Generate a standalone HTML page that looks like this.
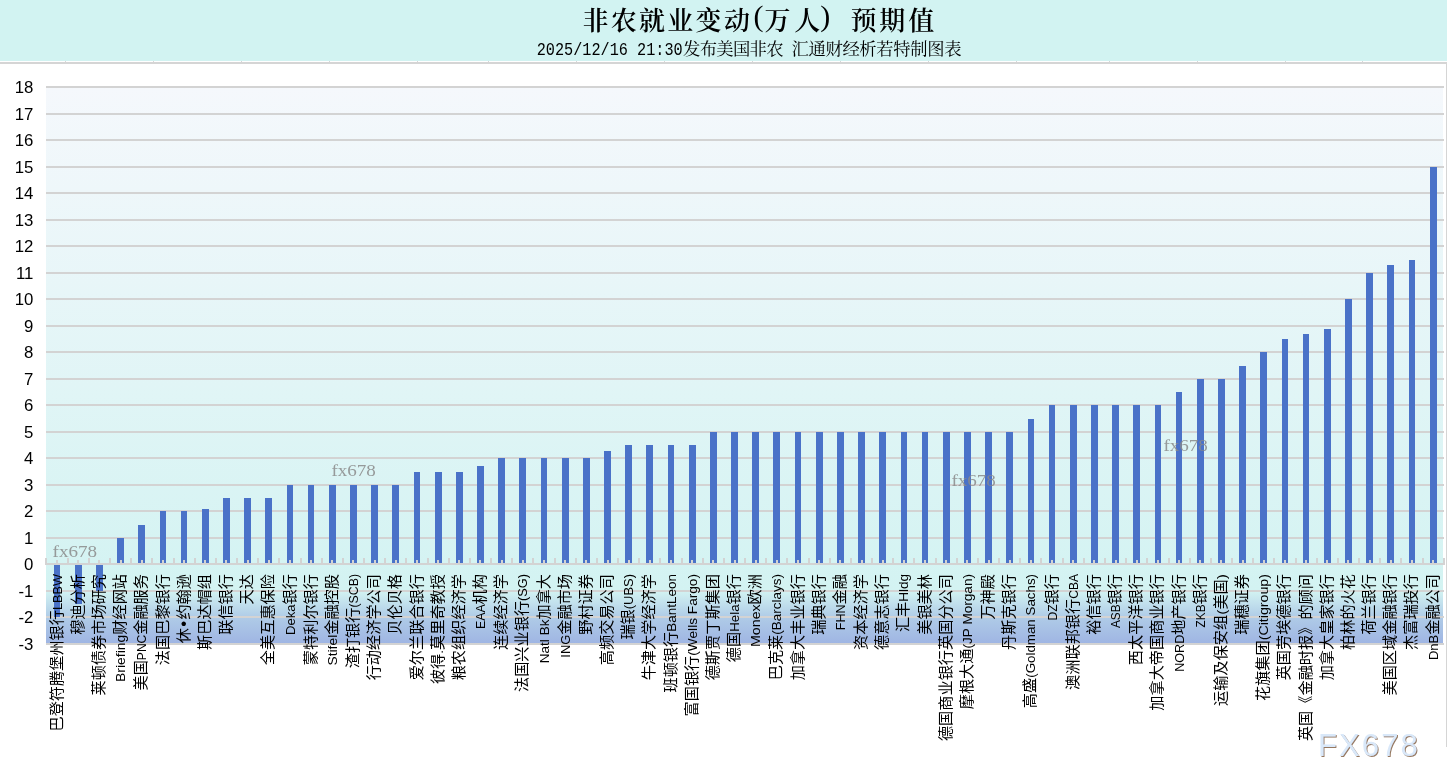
<!DOCTYPE html>
<html lang="zh-CN"><head><meta charset="utf-8"><title>非农就业变动(万人) 预期值</title>
<style>html,body{margin:0;padding:0;background:#fff}body{width:1447px;height:781px;overflow:hidden}svg{display:block}.yl{font-family:"Liberation Sans",sans-serif;font-size:16.8px;fill:#000;text-anchor:end}.xl{font-family:"Liberation Sans","Noto Sans CJK SC",sans-serif;font-size:15.2px;fill:#000;text-anchor:end}.xl .en{font-family:"Liberation Sans",sans-serif;font-size:13.5px}.xl .bl{font-family:"Liberation Sans",sans-serif;font-size:17px}.wm{font-family:"Liberation Serif",serif;font-size:17.33px;fill:#8a8a8a;fill-opacity:.85}</style></head><body>
<svg width="1447" height="781" viewBox="0 0 1447 781">
<defs><linearGradient id="pg" x1="0" y1="0" x2="0" y2="1"><stop offset="0" stop-color="#f5f8fc"/><stop offset="0.905" stop-color="#d3f3f2"/><stop offset="0.953" stop-color="#afcbe7"/><stop offset="1" stop-color="#9fb5e3"/></linearGradient><filter id="sh" x="-10%" y="-20%" width="120%" height="150%"><feDropShadow dx="1" dy="1" stdDeviation="0.7" flood-color="#8a6a50" flood-opacity="0.9"/></filter></defs>
<rect x="0" y="0" width="1447" height="61" fill="#d2f3f2"/>
<rect x="0" y="62" width="1447" height="2" fill="#d5d5d5"/>
<rect x="1446" y="62" width="1" height="685" fill="#d5d5d5"/>
<rect x="65" y="61" width="1" height="1" fill="#d6d6d6"/>
<rect x="153" y="61" width="1" height="1" fill="#d6d6d6"/>
<rect x="241" y="61" width="1" height="1" fill="#d6d6d6"/>
<rect x="329" y="61" width="1" height="1" fill="#d6d6d6"/>
<rect x="417" y="61" width="1" height="1" fill="#d6d6d6"/>
<rect x="488" y="61" width="1" height="1" fill="#d6d6d6"/>
<rect x="576" y="61" width="1" height="1" fill="#d6d6d6"/>
<rect x="664" y="61" width="1" height="1" fill="#d6d6d6"/>
<rect x="752" y="61" width="1" height="1" fill="#d6d6d6"/>
<rect x="840" y="61" width="1" height="1" fill="#d6d6d6"/>
<rect x="928" y="61" width="1" height="1" fill="#d6d6d6"/>
<rect x="1016" y="61" width="1" height="1" fill="#d6d6d6"/>
<rect x="1109" y="61" width="1" height="1" fill="#d6d6d6"/>
<rect x="1197" y="61" width="1" height="1" fill="#d6d6d6"/>
<rect x="1285" y="61" width="1" height="1" fill="#d6d6d6"/>
<rect x="1362" y="61" width="1" height="1" fill="#d6d6d6"/>
<text y="29.5" style="font-family:'Liberation Serif','Noto Serif CJK SC',serif;font-weight:600;font-size:26px;fill:#000"><tspan x="582.5" textLength="167.4">非农就业变动</tspan><tspan x="753.6" y="25.5" style="font-weight:normal;font-size:30px">(</tspan><tspan x="764.5" y="29.5" textLength="55.8">万人</tspan><tspan x="820.3" y="25.5" style="font-weight:normal;font-size:30px">) </tspan><tspan x="850.5" y="29.5" textLength="83.7">预期值</tspan></text>
<text y="55" style="font-family:'Liberation Mono','Noto Serif CJK SC',serif;font-size:17.33px;fill:#000"><tspan x="536.7" textLength="146" lengthAdjust="spacingAndGlyphs" style="font-size:19px">2025/12/16 21:30</tspan><tspan x="683" textLength="100.5">发布美国非农</tspan><tspan x="791.5" textLength="170">汇通财经析若特制图表</tspan></text>
<rect x="46" y="87" width="1397" height="556.5" fill="url(#pg)"/>
<rect x="46" y="643" width="1398" height="2" fill="#d3d3d3"/>
<rect x="46" y="616" width="1398" height="2" fill="#d3d3d3"/>
<rect x="46" y="590" width="1398" height="2" fill="#d3d3d3"/>
<rect x="46" y="537" width="1398" height="2" fill="#d3d3d3"/>
<rect x="46" y="510" width="1398" height="2" fill="#d3d3d3"/>
<rect x="46" y="484" width="1398" height="2" fill="#d3d3d3"/>
<rect x="46" y="457" width="1398" height="2" fill="#d3d3d3"/>
<rect x="46" y="431" width="1398" height="2" fill="#d3d3d3"/>
<rect x="46" y="404" width="1398" height="2" fill="#d3d3d3"/>
<rect x="46" y="378" width="1398" height="2" fill="#d3d3d3"/>
<rect x="46" y="351" width="1398" height="2" fill="#d3d3d3"/>
<rect x="46" y="325" width="1398" height="2" fill="#d3d3d3"/>
<rect x="46" y="298" width="1398" height="2" fill="#d3d3d3"/>
<rect x="46" y="272" width="1398" height="2" fill="#d3d3d3"/>
<rect x="46" y="245" width="1398" height="2" fill="#d3d3d3"/>
<rect x="46" y="219" width="1398" height="2" fill="#d3d3d3"/>
<rect x="46" y="192" width="1398" height="2" fill="#d3d3d3"/>
<rect x="46" y="166" width="1398" height="2" fill="#d3d3d3"/>
<rect x="46" y="139" width="1398" height="2" fill="#d3d3d3"/>
<rect x="46" y="113" width="1398" height="2" fill="#d3d3d3"/>
<rect x="46" y="86" width="1398" height="2" fill="#d3d3d3"/>
<rect x="54" y="565" width="6" height="52" fill="#4a72c8"/>
<rect x="75" y="565" width="7" height="39" fill="#4a72c8"/>
<rect x="96" y="565" width="7" height="26" fill="#4a72c8"/>
<rect x="117" y="538" width="7" height="25" fill="#4a72c8"/>
<rect x="138" y="525" width="7" height="38" fill="#4a72c8"/>
<rect x="160" y="511" width="6" height="52" fill="#4a72c8"/>
<rect x="181" y="511" width="6" height="52" fill="#4a72c8"/>
<rect x="202" y="509" width="7" height="54" fill="#4a72c8"/>
<rect x="223" y="498" width="7" height="65" fill="#4a72c8"/>
<rect x="244" y="498" width="7" height="65" fill="#4a72c8"/>
<rect x="265" y="498" width="7" height="65" fill="#4a72c8"/>
<rect x="287" y="485" width="6" height="78" fill="#4a72c8"/>
<rect x="308" y="485" width="6" height="78" fill="#4a72c8"/>
<rect x="329" y="485" width="7" height="78" fill="#4a72c8"/>
<rect x="350" y="485" width="7" height="78" fill="#4a72c8"/>
<rect x="371" y="485" width="7" height="78" fill="#4a72c8"/>
<rect x="392" y="485" width="7" height="78" fill="#4a72c8"/>
<rect x="414" y="472" width="6" height="91" fill="#4a72c8"/>
<rect x="435" y="472" width="7" height="91" fill="#4a72c8"/>
<rect x="456" y="472" width="7" height="91" fill="#4a72c8"/>
<rect x="477" y="466" width="7" height="97" fill="#4a72c8"/>
<rect x="498" y="458" width="7" height="105" fill="#4a72c8"/>
<rect x="519" y="458" width="7" height="105" fill="#4a72c8"/>
<rect x="541" y="458" width="6" height="105" fill="#4a72c8"/>
<rect x="562" y="458" width="7" height="105" fill="#4a72c8"/>
<rect x="583" y="458" width="7" height="105" fill="#4a72c8"/>
<rect x="604" y="451" width="7" height="112" fill="#4a72c8"/>
<rect x="625" y="445" width="7" height="118" fill="#4a72c8"/>
<rect x="646" y="445" width="7" height="118" fill="#4a72c8"/>
<rect x="668" y="445" width="6" height="118" fill="#4a72c8"/>
<rect x="689" y="445" width="7" height="118" fill="#4a72c8"/>
<rect x="710" y="432" width="7" height="131" fill="#4a72c8"/>
<rect x="731" y="432" width="7" height="131" fill="#4a72c8"/>
<rect x="752" y="432" width="7" height="131" fill="#4a72c8"/>
<rect x="773" y="432" width="7" height="131" fill="#4a72c8"/>
<rect x="795" y="432" width="6" height="131" fill="#4a72c8"/>
<rect x="816" y="432" width="7" height="131" fill="#4a72c8"/>
<rect x="837" y="432" width="7" height="131" fill="#4a72c8"/>
<rect x="858" y="432" width="7" height="131" fill="#4a72c8"/>
<rect x="879" y="432" width="7" height="131" fill="#4a72c8"/>
<rect x="901" y="432" width="6" height="131" fill="#4a72c8"/>
<rect x="922" y="432" width="6" height="131" fill="#4a72c8"/>
<rect x="943" y="432" width="7" height="131" fill="#4a72c8"/>
<rect x="964" y="432" width="7" height="131" fill="#4a72c8"/>
<rect x="985" y="432" width="7" height="131" fill="#4a72c8"/>
<rect x="1006" y="432" width="7" height="131" fill="#4a72c8"/>
<rect x="1028" y="419" width="6" height="144" fill="#4a72c8"/>
<rect x="1049" y="405" width="6" height="158" fill="#4a72c8"/>
<rect x="1070" y="405" width="7" height="158" fill="#4a72c8"/>
<rect x="1091" y="405" width="7" height="158" fill="#4a72c8"/>
<rect x="1112" y="405" width="7" height="158" fill="#4a72c8"/>
<rect x="1133" y="405" width="7" height="158" fill="#4a72c8"/>
<rect x="1155" y="405" width="6" height="158" fill="#4a72c8"/>
<rect x="1176" y="392" width="6" height="171" fill="#4a72c8"/>
<rect x="1197" y="379" width="7" height="184" fill="#4a72c8"/>
<rect x="1218" y="379" width="7" height="184" fill="#4a72c8"/>
<rect x="1239" y="366" width="7" height="197" fill="#4a72c8"/>
<rect x="1260" y="352" width="7" height="211" fill="#4a72c8"/>
<rect x="1282" y="339" width="6" height="224" fill="#4a72c8"/>
<rect x="1303" y="334" width="6" height="229" fill="#4a72c8"/>
<rect x="1324" y="329" width="7" height="234" fill="#4a72c8"/>
<rect x="1345" y="299" width="7" height="264" fill="#4a72c8"/>
<rect x="1366" y="273" width="7" height="290" fill="#4a72c8"/>
<rect x="1387" y="265" width="7" height="298" fill="#4a72c8"/>
<rect x="1409" y="260" width="6" height="303" fill="#4a72c8"/>
<rect x="1430" y="167" width="7" height="396" fill="#4a72c8"/>
<rect x="45" y="563" width="1400" height="2" fill="#d3d3d3"/>
<rect x="45" y="558" width="2" height="6" fill="#d3d3d3"/>
<rect x="67" y="558" width="2" height="6" fill="#d3d3d3"/>
<rect x="88" y="558" width="2" height="6" fill="#d3d3d3"/>
<rect x="109" y="558" width="2" height="6" fill="#d3d3d3"/>
<rect x="130" y="558" width="2" height="6" fill="#d3d3d3"/>
<rect x="151" y="558" width="2" height="6" fill="#d3d3d3"/>
<rect x="173" y="558" width="2" height="6" fill="#d3d3d3"/>
<rect x="194" y="558" width="2" height="6" fill="#d3d3d3"/>
<rect x="215" y="558" width="2" height="6" fill="#d3d3d3"/>
<rect x="236" y="558" width="2" height="6" fill="#d3d3d3"/>
<rect x="257" y="558" width="2" height="6" fill="#d3d3d3"/>
<rect x="278" y="558" width="2" height="6" fill="#d3d3d3"/>
<rect x="300" y="558" width="2" height="6" fill="#d3d3d3"/>
<rect x="321" y="558" width="2" height="6" fill="#d3d3d3"/>
<rect x="342" y="558" width="2" height="6" fill="#d3d3d3"/>
<rect x="363" y="558" width="2" height="6" fill="#d3d3d3"/>
<rect x="384" y="558" width="2" height="6" fill="#d3d3d3"/>
<rect x="405" y="558" width="2" height="6" fill="#d3d3d3"/>
<rect x="427" y="558" width="2" height="6" fill="#d3d3d3"/>
<rect x="448" y="558" width="2" height="6" fill="#d3d3d3"/>
<rect x="469" y="558" width="2" height="6" fill="#d3d3d3"/>
<rect x="490" y="558" width="2" height="6" fill="#d3d3d3"/>
<rect x="511" y="558" width="2" height="6" fill="#d3d3d3"/>
<rect x="532" y="558" width="2" height="6" fill="#d3d3d3"/>
<rect x="554" y="558" width="2" height="6" fill="#d3d3d3"/>
<rect x="575" y="558" width="2" height="6" fill="#d3d3d3"/>
<rect x="596" y="558" width="2" height="6" fill="#d3d3d3"/>
<rect x="617" y="558" width="2" height="6" fill="#d3d3d3"/>
<rect x="638" y="558" width="2" height="6" fill="#d3d3d3"/>
<rect x="659" y="558" width="2" height="6" fill="#d3d3d3"/>
<rect x="681" y="558" width="2" height="6" fill="#d3d3d3"/>
<rect x="702" y="558" width="2" height="6" fill="#d3d3d3"/>
<rect x="723" y="558" width="2" height="6" fill="#d3d3d3"/>
<rect x="744" y="558" width="2" height="6" fill="#d3d3d3"/>
<rect x="765" y="558" width="2" height="6" fill="#d3d3d3"/>
<rect x="786" y="558" width="2" height="6" fill="#d3d3d3"/>
<rect x="808" y="558" width="2" height="6" fill="#d3d3d3"/>
<rect x="829" y="558" width="2" height="6" fill="#d3d3d3"/>
<rect x="850" y="558" width="2" height="6" fill="#d3d3d3"/>
<rect x="871" y="558" width="2" height="6" fill="#d3d3d3"/>
<rect x="892" y="558" width="2" height="6" fill="#d3d3d3"/>
<rect x="913" y="558" width="2" height="6" fill="#d3d3d3"/>
<rect x="935" y="558" width="2" height="6" fill="#d3d3d3"/>
<rect x="956" y="558" width="2" height="6" fill="#d3d3d3"/>
<rect x="977" y="558" width="2" height="6" fill="#d3d3d3"/>
<rect x="998" y="558" width="2" height="6" fill="#d3d3d3"/>
<rect x="1019" y="558" width="2" height="6" fill="#d3d3d3"/>
<rect x="1040" y="558" width="2" height="6" fill="#d3d3d3"/>
<rect x="1062" y="558" width="2" height="6" fill="#d3d3d3"/>
<rect x="1083" y="558" width="2" height="6" fill="#d3d3d3"/>
<rect x="1104" y="558" width="2" height="6" fill="#d3d3d3"/>
<rect x="1125" y="558" width="2" height="6" fill="#d3d3d3"/>
<rect x="1146" y="558" width="2" height="6" fill="#d3d3d3"/>
<rect x="1168" y="558" width="2" height="6" fill="#d3d3d3"/>
<rect x="1189" y="558" width="2" height="6" fill="#d3d3d3"/>
<rect x="1210" y="558" width="2" height="6" fill="#d3d3d3"/>
<rect x="1231" y="558" width="2" height="6" fill="#d3d3d3"/>
<rect x="1252" y="558" width="2" height="6" fill="#d3d3d3"/>
<rect x="1273" y="558" width="2" height="6" fill="#d3d3d3"/>
<rect x="1295" y="558" width="2" height="6" fill="#d3d3d3"/>
<rect x="1316" y="558" width="2" height="6" fill="#d3d3d3"/>
<rect x="1337" y="558" width="2" height="6" fill="#d3d3d3"/>
<rect x="1358" y="558" width="2" height="6" fill="#d3d3d3"/>
<rect x="1379" y="558" width="2" height="6" fill="#d3d3d3"/>
<rect x="1400" y="558" width="2" height="6" fill="#d3d3d3"/>
<rect x="1422" y="558" width="2" height="6" fill="#d3d3d3"/>
<rect x="1443" y="558" width="2" height="6" fill="#d3d3d3"/>
<rect x="56" y="560" width="2" height="4" fill="#d3d3d3"/>
<rect x="77" y="560" width="2" height="4" fill="#d3d3d3"/>
<rect x="98" y="560" width="2" height="4" fill="#d3d3d3"/>
<rect x="120" y="560" width="2" height="4" fill="#d3d3d3"/>
<rect x="141" y="560" width="2" height="4" fill="#d3d3d3"/>
<rect x="162" y="560" width="2" height="4" fill="#d3d3d3"/>
<rect x="183" y="560" width="2" height="4" fill="#d3d3d3"/>
<rect x="204" y="560" width="2" height="4" fill="#d3d3d3"/>
<rect x="225" y="560" width="2" height="4" fill="#d3d3d3"/>
<rect x="247" y="560" width="2" height="4" fill="#d3d3d3"/>
<rect x="268" y="560" width="2" height="4" fill="#d3d3d3"/>
<rect x="289" y="560" width="2" height="4" fill="#d3d3d3"/>
<rect x="310" y="560" width="2" height="4" fill="#d3d3d3"/>
<rect x="331" y="560" width="2" height="4" fill="#d3d3d3"/>
<rect x="352" y="560" width="2" height="4" fill="#d3d3d3"/>
<rect x="374" y="560" width="2" height="4" fill="#d3d3d3"/>
<rect x="395" y="560" width="2" height="4" fill="#d3d3d3"/>
<rect x="416" y="560" width="2" height="4" fill="#d3d3d3"/>
<rect x="437" y="560" width="2" height="4" fill="#d3d3d3"/>
<rect x="458" y="560" width="2" height="4" fill="#d3d3d3"/>
<rect x="479" y="560" width="2" height="4" fill="#d3d3d3"/>
<rect x="501" y="560" width="2" height="4" fill="#d3d3d3"/>
<rect x="522" y="560" width="2" height="4" fill="#d3d3d3"/>
<rect x="543" y="560" width="2" height="4" fill="#d3d3d3"/>
<rect x="564" y="560" width="2" height="4" fill="#d3d3d3"/>
<rect x="585" y="560" width="2" height="4" fill="#d3d3d3"/>
<rect x="607" y="560" width="2" height="4" fill="#d3d3d3"/>
<rect x="628" y="560" width="2" height="4" fill="#d3d3d3"/>
<rect x="649" y="560" width="2" height="4" fill="#d3d3d3"/>
<rect x="670" y="560" width="2" height="4" fill="#d3d3d3"/>
<rect x="691" y="560" width="2" height="4" fill="#d3d3d3"/>
<rect x="712" y="560" width="2" height="4" fill="#d3d3d3"/>
<rect x="734" y="560" width="2" height="4" fill="#d3d3d3"/>
<rect x="755" y="560" width="2" height="4" fill="#d3d3d3"/>
<rect x="776" y="560" width="2" height="4" fill="#d3d3d3"/>
<rect x="797" y="560" width="2" height="4" fill="#d3d3d3"/>
<rect x="818" y="560" width="2" height="4" fill="#d3d3d3"/>
<rect x="839" y="560" width="2" height="4" fill="#d3d3d3"/>
<rect x="861" y="560" width="2" height="4" fill="#d3d3d3"/>
<rect x="882" y="560" width="2" height="4" fill="#d3d3d3"/>
<rect x="903" y="560" width="2" height="4" fill="#d3d3d3"/>
<rect x="924" y="560" width="2" height="4" fill="#d3d3d3"/>
<rect x="945" y="560" width="2" height="4" fill="#d3d3d3"/>
<rect x="966" y="560" width="2" height="4" fill="#d3d3d3"/>
<rect x="988" y="560" width="2" height="4" fill="#d3d3d3"/>
<rect x="1009" y="560" width="2" height="4" fill="#d3d3d3"/>
<rect x="1030" y="560" width="2" height="4" fill="#d3d3d3"/>
<rect x="1051" y="560" width="2" height="4" fill="#d3d3d3"/>
<rect x="1072" y="560" width="2" height="4" fill="#d3d3d3"/>
<rect x="1093" y="560" width="2" height="4" fill="#d3d3d3"/>
<rect x="1115" y="560" width="2" height="4" fill="#d3d3d3"/>
<rect x="1136" y="560" width="2" height="4" fill="#d3d3d3"/>
<rect x="1157" y="560" width="2" height="4" fill="#d3d3d3"/>
<rect x="1178" y="560" width="2" height="4" fill="#d3d3d3"/>
<rect x="1199" y="560" width="2" height="4" fill="#d3d3d3"/>
<rect x="1220" y="560" width="2" height="4" fill="#d3d3d3"/>
<rect x="1242" y="560" width="2" height="4" fill="#d3d3d3"/>
<rect x="1263" y="560" width="2" height="4" fill="#d3d3d3"/>
<rect x="1284" y="560" width="2" height="4" fill="#d3d3d3"/>
<rect x="1305" y="560" width="2" height="4" fill="#d3d3d3"/>
<rect x="1326" y="560" width="2" height="4" fill="#d3d3d3"/>
<rect x="1347" y="560" width="2" height="4" fill="#d3d3d3"/>
<rect x="1369" y="560" width="2" height="4" fill="#d3d3d3"/>
<rect x="1390" y="560" width="2" height="4" fill="#d3d3d3"/>
<rect x="1411" y="560" width="2" height="4" fill="#d3d3d3"/>
<rect x="1432" y="560" width="2" height="4" fill="#d3d3d3"/>
<text class="yl" x="33.3" y="649.5">-3</text>
<text class="yl" x="33.3" y="623.0">-2</text>
<text class="yl" x="33.3" y="596.5">-1</text>
<text class="yl" x="33.3" y="570.0">0</text>
<text class="yl" x="33.3" y="543.5">1</text>
<text class="yl" x="33.3" y="517.0">2</text>
<text class="yl" x="33.3" y="490.5">3</text>
<text class="yl" x="33.3" y="464.0">4</text>
<text class="yl" x="33.3" y="437.5">5</text>
<text class="yl" x="33.3" y="411.0">6</text>
<text class="yl" x="33.3" y="384.5">7</text>
<text class="yl" x="33.3" y="358.0">8</text>
<text class="yl" x="33.3" y="331.5">9</text>
<text class="yl" x="33.3" y="305.0">10</text>
<text class="yl" x="33.3" y="278.5">11</text>
<text class="yl" x="33.3" y="252.0">12</text>
<text class="yl" x="33.3" y="225.5">13</text>
<text class="yl" x="33.3" y="199.0">14</text>
<text class="yl" x="33.3" y="172.5">15</text>
<text class="yl" x="33.3" y="146.0">16</text>
<text class="yl" x="33.3" y="119.5">17</text>
<text class="yl" x="33.3" y="93.0">18</text>
<text class="wm" x="52.6" y="556.9" textLength="44.5" lengthAdjust="spacingAndGlyphs">fx678</text>
<text class="wm" x="331.4" y="476.4" textLength="44.5" lengthAdjust="spacingAndGlyphs">fx678</text>
<text class="wm" x="951.4" y="486.4" textLength="44.5" lengthAdjust="spacingAndGlyphs">fx678</text>
<text class="wm" x="1163.4" y="451.4" textLength="44.5" lengthAdjust="spacingAndGlyphs">fx678</text>
<text class="xl" transform="translate(61.78,574) rotate(-90)">巴登符腾堡州银行<tspan class="en" textLength="36.0" lengthAdjust="spacingAndGlyphs">LBBW</tspan></text>
<text class="xl" transform="translate(82.95,574) rotate(-90)">穆迪分析</text>
<text class="xl" transform="translate(104.12,574) rotate(-90)">莱顿债券市场研究</text>
<text class="xl" transform="translate(125.28,574) rotate(-90)"><tspan class="en" textLength="47.2" lengthAdjust="spacingAndGlyphs">Briefing</tspan>财经网站</text>
<text class="xl" transform="translate(146.45,574) rotate(-90)">美国<tspan class="en" textLength="25.4" lengthAdjust="spacingAndGlyphs">PNC</tspan>金融服务</text>
<text class="xl" transform="translate(167.62,574) rotate(-90)">法国巴黎银行</text>
<text class="xl" transform="translate(188.78,574) rotate(-90)">休<tspan class="bl" dx="1.3">•</tspan><tspan dx="1.3">约翰逊</tspan></text>
<text class="xl" transform="translate(209.95,574) rotate(-90)">斯巴达帽组</text>
<text class="xl" transform="translate(231.12,574) rotate(-90)">联信银行</text>
<text class="xl" transform="translate(252.28,574) rotate(-90)">天达</text>
<text class="xl" transform="translate(273.45,574) rotate(-90)">全美互惠保险</text>
<text class="xl" transform="translate(294.62,574) rotate(-90)"><tspan class="en" textLength="30.7" lengthAdjust="spacingAndGlyphs">Deka</tspan>银行</text>
<text class="xl" transform="translate(315.78,574) rotate(-90)">蒙特利尔银行</text>
<text class="xl" transform="translate(336.95,574) rotate(-90)"><tspan class="en" textLength="30.8" lengthAdjust="spacingAndGlyphs">Stifel</tspan>金融控股</text>
<text class="xl" transform="translate(358.12,574) rotate(-90)">渣打银行<tspan class="en" textLength="33.5" lengthAdjust="spacingAndGlyphs">(SCB)</tspan></text>
<text class="xl" transform="translate(379.28,574) rotate(-90)">行动经济学公司</text>
<text class="xl" transform="translate(400.45,574) rotate(-90)">贝伦贝格</text>
<text class="xl" transform="translate(421.62,574) rotate(-90)">爱尔兰联合银行</text>
<text class="xl" transform="translate(442.78,574) rotate(-90)">彼得<tspan class="en" textLength="3.8" lengthAdjust="spacingAndGlyphs">.</tspan>莫里奇教授</text>
<text class="xl" transform="translate(463.95,574) rotate(-90)">粮农组织经济学</text>
<text class="xl" transform="translate(485.12,574) rotate(-90)"><tspan class="en" textLength="24.7" lengthAdjust="spacingAndGlyphs">EAA</tspan>机构</text>
<text class="xl" transform="translate(506.28,574) rotate(-90)">连续经济学</text>
<text class="xl" transform="translate(527.45,574) rotate(-90)">法国兴业银行<tspan class="en" textLength="26.9" lengthAdjust="spacingAndGlyphs">(SG)</tspan></text>
<text class="xl" transform="translate(548.62,574) rotate(-90)"><tspan class="en" textLength="43.7" lengthAdjust="spacingAndGlyphs">Natl Bk</tspan>加拿大</text>
<text class="xl" transform="translate(569.78,574) rotate(-90)"><tspan class="en" textLength="22.9" lengthAdjust="spacingAndGlyphs">ING</tspan>金融市场</text>
<text class="xl" transform="translate(590.95,574) rotate(-90)">野村证券</text>
<text class="xl" transform="translate(612.12,574) rotate(-90)">高频交易公司</text>
<text class="xl" transform="translate(633.28,574) rotate(-90)">瑞银<tspan class="en" textLength="35.2" lengthAdjust="spacingAndGlyphs">(UBS)</tspan></text>
<text class="xl" transform="translate(654.45,574) rotate(-90)">牛津大学经济学</text>
<text class="xl" transform="translate(675.62,574) rotate(-90)">班顿银行<tspan class="en" textLength="57.8" lengthAdjust="spacingAndGlyphs">BantLeon</tspan></text>
<text class="xl" transform="translate(696.78,574) rotate(-90)">富国银行<tspan class="en" textLength="81.7" lengthAdjust="spacingAndGlyphs">(Wells Fargo)</tspan></text>
<text class="xl" transform="translate(717.95,574) rotate(-90)">德斯贾丁斯集团</text>
<text class="xl" transform="translate(739.12,574) rotate(-90)">德国<tspan class="en" textLength="27.4" lengthAdjust="spacingAndGlyphs">Hela</tspan>银行</text>
<text class="xl" transform="translate(760.28,574) rotate(-90)"><tspan class="en" textLength="42.6" lengthAdjust="spacingAndGlyphs">Monex</tspan>欧洲</text>
<text class="xl" transform="translate(781.45,574) rotate(-90)">巴克莱<tspan class="en" textLength="60.7" lengthAdjust="spacingAndGlyphs">(Barclays)</tspan></text>
<text class="xl" transform="translate(802.62,574) rotate(-90)">加拿大丰业银行</text>
<text class="xl" transform="translate(823.78,574) rotate(-90)">瑞典银行</text>
<text class="xl" transform="translate(844.95,574) rotate(-90)"><tspan class="en" textLength="25.9" lengthAdjust="spacingAndGlyphs">FHN</tspan>金融</text>
<text class="xl" transform="translate(866.12,574) rotate(-90)">资本经济学</text>
<text class="xl" transform="translate(887.28,574) rotate(-90)">德意志银行</text>
<text class="xl" transform="translate(908.45,574) rotate(-90)">汇丰<tspan class="en" textLength="27.7" lengthAdjust="spacingAndGlyphs">Hldg</tspan></text>
<text class="xl" transform="translate(929.62,574) rotate(-90)">美银美林</text>
<text class="xl" transform="translate(950.78,574) rotate(-90)">德国商业银行英国分公司</text>
<text class="xl" transform="translate(971.95,574) rotate(-90)">摩根大通<tspan class="en" textLength="74.5" lengthAdjust="spacingAndGlyphs">(JP Morgan)</tspan></text>
<text class="xl" transform="translate(993.12,574) rotate(-90)">万神殿</text>
<text class="xl" transform="translate(1014.28,574) rotate(-90)">丹斯克银行</text>
<text class="xl" transform="translate(1035.45,574) rotate(-90)">高盛<tspan class="en" textLength="103.8" lengthAdjust="spacingAndGlyphs">(Goldman Sachs)</tspan></text>
<text class="xl" transform="translate(1056.62,574) rotate(-90)"><tspan class="en" textLength="16.2" lengthAdjust="spacingAndGlyphs">DZ</tspan>银行</text>
<text class="xl" transform="translate(1077.78,574) rotate(-90)">澳洲联邦银行<tspan class="en" textLength="24.8" lengthAdjust="spacingAndGlyphs">CBA</tspan></text>
<text class="xl" transform="translate(1098.95,574) rotate(-90)">裕信银行</text>
<text class="xl" transform="translate(1120.12,574) rotate(-90)"><tspan class="en" textLength="23.7" lengthAdjust="spacingAndGlyphs">ASB</tspan>银行</text>
<text class="xl" transform="translate(1141.28,574) rotate(-90)">西太平洋银行</text>
<text class="xl" transform="translate(1162.45,574) rotate(-90)">加拿大帝国商业银行</text>
<text class="xl" transform="translate(1183.62,574) rotate(-90)"><tspan class="en" textLength="37.0" lengthAdjust="spacingAndGlyphs">NORD</tspan>地产银行</text>
<text class="xl" transform="translate(1204.78,574) rotate(-90)"><tspan class="en" textLength="23.0" lengthAdjust="spacingAndGlyphs">ZKB</tspan>银行</text>
<text class="xl" transform="translate(1225.95,574) rotate(-90)">运输及保安组<tspan class="en" textLength="5.2" lengthAdjust="spacingAndGlyphs">(</tspan>美国<tspan class="en" textLength="5.2" lengthAdjust="spacingAndGlyphs">)</tspan></text>
<text class="xl" transform="translate(1247.12,574) rotate(-90)">瑞穗证券</text>
<text class="xl" transform="translate(1268.28,574) rotate(-90)">花旗集团<tspan class="en" textLength="66.3" lengthAdjust="spacingAndGlyphs">(Citigroup)</tspan></text>
<text class="xl" transform="translate(1289.45,574) rotate(-90)">英国劳埃德银行</text>
<text class="xl" transform="translate(1310.62,574) rotate(-90)">英国《金融时报》的顾问</text>
<text class="xl" transform="translate(1331.78,574) rotate(-90)">加拿大皇家银行</text>
<text class="xl" transform="translate(1352.95,574) rotate(-90)">柏林的火花</text>
<text class="xl" transform="translate(1374.12,574) rotate(-90)">荷兰银行</text>
<text class="xl" transform="translate(1395.28,574) rotate(-90)">美国区域金融银行</text>
<text class="xl" transform="translate(1416.45,574) rotate(-90)">杰富瑞投行</text>
<text class="xl" transform="translate(1437.62,574) rotate(-90)"><tspan class="en" textLength="25.3" lengthAdjust="spacingAndGlyphs">DnB</tspan>金融公司</text>
<text x="1318" y="756.2" filter="url(#sh)" style="font-family:'Liberation Sans',sans-serif;font-size:31px;letter-spacing:2.1px;fill:#d9e8f9">FX678</text>
</svg></body></html>
